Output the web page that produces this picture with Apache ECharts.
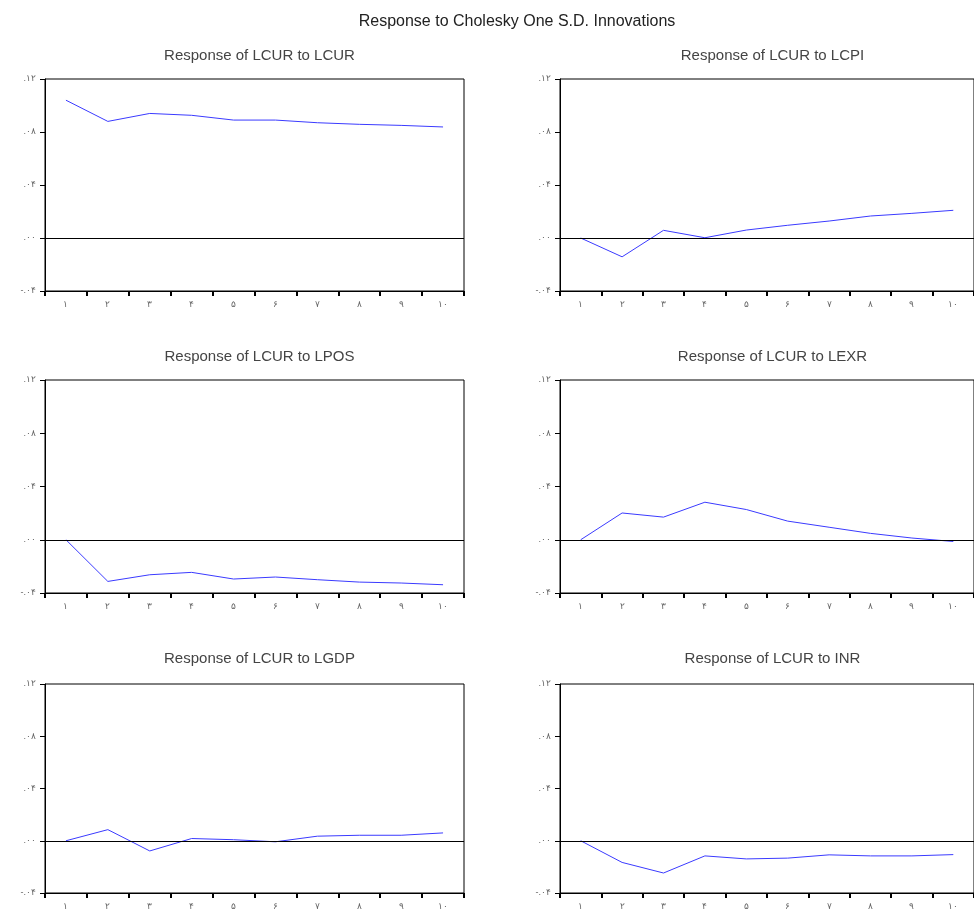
<!DOCTYPE html>
<html><head><meta charset="utf-8">
<script src="https://cdn.jsdelivr.net/npm/echarts@6/dist/echarts.min.js"></script>
<style>html,body{margin:0;padding:0;background:#fff}#c{width:974px;height:911px}</style>
</head><body><div id="c"></div>
<script>
var periods = ['۱','۲','۳','۴','۵','۶','۷','۸','۹','۱۰'];
var yTicks = {'-0.04':'-.۰۴','0':'.۰۰','0.04':'.۰۴','0.08':'.۰۸','0.12':'.۱۲'};
var panelTitles = ['Response of LCUR to LCUR','Response of LCUR to LCPI','Response of LCUR to LPOS','Response of LCUR to LEXR','Response of LCUR to LGDP','Response of LCUR to INR'];
var lcur = [0.104, 0.088, 0.094, 0.0926, 0.089, 0.089, 0.087, 0.0858, 0.085, 0.0838];
var lcpi = [0, -0.0142, 0.0058, 0.0002, 0.006, 0.0096, 0.0128, 0.0166, 0.0186, 0.0209];
var lpos = [0, -0.0313, -0.0263, -0.0245, -0.0295, -0.028, -0.030, -0.0318, -0.0325, -0.0338];
var lexr = [0, 0.0201, 0.017, 0.0282, 0.0227, 0.014, 0.0094, 0.0048, 0.0013, -0.0013];
var lgdp = [0, 0.0085, -0.0078, 0.0017, 0.0008, -0.0008, 0.0035, 0.0042, 0.0042, 0.006];
var inr = [0, -0.0166, -0.0247, -0.0116, -0.0139, -0.0133, -0.0108, -0.0116, -0.0116, -0.0106];
var seriesData = [lcur, lcpi, lpos, lexr, lgdp, inr];

var cols = [{left:45, width:419}, {left:560, width:415}];
var rows = [{top:79, height:212, title:43}, {top:380, height:213, title:344}, {top:684, height:210, title:646}];
var FONT = "'Liberation Sans', Arial, sans-serif";

var grids=[], xAxes=[], yAxes=[], series=[], titles=[];
titles.push({text:'Response to Cholesky One S.D. Innovations', left:512, top:9, textAlign:'center',
  textStyle:{fontFamily:FONT, fontSize:16, fontWeight:'normal', color:'#222'}});
for (var i=0;i<6;i++){
  var c=cols[i%2], r=rows[Math.floor(i/2)];
  grids.push({left:c.left, width:c.width, top:r.top, height:r.height, show:true, borderColor:'#000', borderWidth:1, backgroundColor:'transparent'});
  titles.push({text:panelTitles[i], left:c.left + c.width/2, top:r.title, textAlign:'center',
    textStyle:{fontFamily:FONT, fontSize:15, fontWeight:'normal', color:'#444'}});
  xAxes.push({type:'category', gridIndex:i, data:periods, boundaryGap:true,
    axisLine:{onZero:false, lineStyle:{color:'#000', width:1}},
    axisTick:{show:true, inside:false, length:5, lineStyle:{color:'#000', width:2}},
    axisLabel:{color:'#666', fontSize:9, margin:9, fontFamily:FONT},
    splitLine:{show:false}});
  yAxes.push({type:'value', gridIndex:i, min:-0.04, max:0.12, interval:0.04,
    axisLine:{show:true, lineStyle:{color:'#000', width:1}},
    axisTick:{show:true, inside:false, length:5, lineStyle:{color:'#000'}},
    axisLabel:{color:'#666', fontSize:9, margin:9, fontFamily:FONT,
      formatter:function(v){ var k = String(Math.round(v*100)/100); return yTicks[k]!==undefined?yTicks[k]:''; }},
    splitLine:{show:false}});
  series.push({type:'line', xAxisIndex:i, yAxisIndex:i, data:seriesData[i], symbol:'none',
    lineStyle:{color:'#3a3aff', width:1}, silent:true, animation:false,
    markLine:{silent:true, symbol:['none','none'], label:{show:false},
      lineStyle:{color:'#000', width:1, type:'solid'}, data:[{yAxis:0}], animation:false}});
}
var chart = echarts.init(document.getElementById('c'));
chart.setOption({animation:false, title:titles, grid:grids, xAxis:xAxes, yAxis:yAxes, series:series});
</script></body></html>
